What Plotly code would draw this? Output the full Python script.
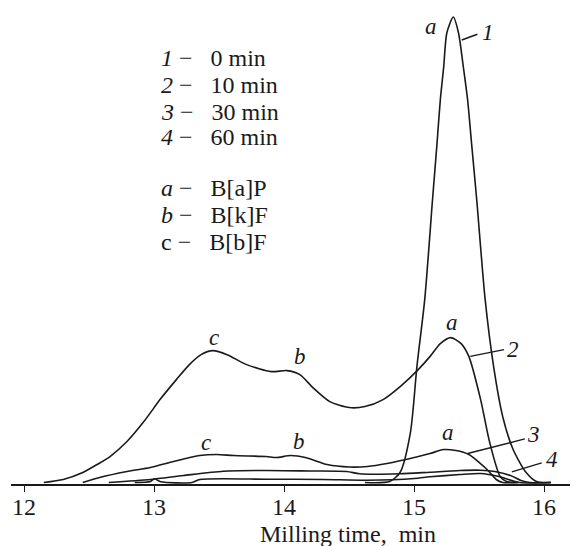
import plotly.graph_objects as go

# ---- data (x = milling/retention time, min; y = detector signal, arbitrary units) ----
x1 = [14.62, 14.81, 14.89, 14.97, 15.02, 15.08, 15.14, 15.175, 15.20, 15.226, 15.25, 15.30,
      15.34, 15.377, 15.41, 15.44, 15.48, 15.545, 15.61, 15.68, 15.76, 15.86, 15.94, 16.05]
y1 = [1, 2, 11, 51, 117, 184, 284, 341, 384, 417, 451, 467,
      451, 417, 384, 341, 284, 184, 117, 67, 34, 11, 2, 1]

x2 = [12.15, 12.30, 12.45, 12.56, 12.66, 12.79, 12.92, 13.05, 13.17, 13.27, 13.36, 13.45,
      13.56, 13.71, 13.90, 14.02, 14.12, 14.22, 14.35, 14.50, 14.62, 14.76, 14.90, 15.03,
      15.12, 15.20, 15.28, 15.36, 15.42, 15.51, 15.58, 15.66, 15.71, 15.80]
y2 = [1, 4, 11, 19, 27, 42, 62, 85, 104, 119, 129, 133,
      129, 119, 112, 113, 109, 96, 82, 76, 77, 84, 98, 114,
      127, 140, 146, 140, 127, 84, 41, 7, 2, 1]

x3 = [12.45, 12.58, 12.79, 12.97, 13.15, 13.35, 13.48, 13.61, 13.86, 13.94, 14.05, 14.17,
      14.33, 14.50, 14.64, 14.79, 15.00, 15.12, 15.225, 15.32, 15.42, 15.50, 15.56, 15.63,
      15.68, 15.80]
y3 = [1, 6, 12, 16, 22, 28, 29, 28, 27, 26, 28, 25.7,
      19, 16.5, 17, 20, 26, 30, 34, 33, 29, 21, 14, 4,
      1, 1]

x4 = [12.65, 12.97, 13.225, 13.53, 13.86, 14.20, 14.48, 14.58, 14.89, 15.12, 15.35, 15.51,
      15.62, 15.74, 15.82, 15.89, 16.05]
y4 = [1, 4, 8, 12.3, 13, 12.5, 12, 9.7, 9.7, 11.3, 13, 13.3,
      12, 8, 3, 1, 1]

x5 = [12.85, 12.97, 13.00, 13.05, 13.29, 13.35, 13.86, 14.30, 14.64, 15.00, 15.12, 15.35,
      15.51, 15.65, 15.81, 16.05]
y5 = [1, 2, 4.7, 1.7, 1, 4, 4.3, 4, 3.3, 5, 6.7, 9,
      10, 7, 1, 1]

tick_vals = [12, 13, 14, 15, 16]
tick_text = ["12", "13", "14", "15", "16"]
x_title = "Milling time,\u00a0 min"

# peak labels: (x, y, text)
peak_labels = [
    (15.13, 457, "a"),
    (15.29, 161, "a"), (13.46, 146, "c"), (14.12, 127, "b"),
    (15.26, 51, "a"), (13.40, 41, "c"), (14.11, 42, "b"),
]
# curve number labels: (x, y, text, leader x0, y0, x1, y1)
curve_labels = [
    (15.57, 451, "1", 15.365, 444, 15.485, 449.7),
    (15.76, 134, "2", 15.43, 127.3, 15.69, 134),
    (15.92, 49, "3", 15.41, 30, 15.85, 44.7),
    (16.06, 24, "4", 15.75, 11.7, 15.98, 20.7),
]
legend_rows = [
    "<i>1</i> \u2212 \u00a0\u00a00 min",
    "<i>2</i> \u2212 \u00a0\u00a010 min",
    "<i>3</i> \u2212 \u00a0\u00a030 min",
    "<i>4</i> \u2212 \u00a0\u00a060 min",
    "<i>a</i> \u2212 \u00a0\u00a0B[a]P",
    "<i>b</i> \u2212 \u00a0\u00a0B[k]F",
    "c \u2212 \u00a0\u00a0B[b]F",
]
legend_y = [426, 399, 372, 347, 296, 269, 242]
legend_x = 13.04

FONT = "Liberation Serif"
LC = "#1a1a1a"

fig = go.Figure()
for xs, ys in [(x1, y1), (x2, y2), (x3, y3), (x4, y4), (x5, y5)]:
    fig.add_trace(go.Scatter(x=xs, y=ys, mode="lines",
                             line=dict(color=LC, width=1.6, shape="spline", smoothing=0.7),
                             showlegend=False, hoverinfo="skip"))

ann = []
for x, y, t in peak_labels:
    ann.append(dict(x=x, y=y, text=f"<i>{t}</i>", xref="x", yref="y", showarrow=False,
                    font=dict(family=FONT, size=23, color=LC), xanchor="center", yanchor="middle"))
shapes = []
for x, y, t, a0, b0, a1, b1 in curve_labels:
    ann.append(dict(x=x, y=y, text=f"<i>{t}</i>", xref="x", yref="y", showarrow=False,
                    font=dict(family=FONT, size=23, color=LC), xanchor="center", yanchor="middle"))
    shapes.append(dict(type="line", xref="x", yref="y", x0=a0, y0=b0, x1=a1, y1=b1,
                       line=dict(color=LC, width=1.4)))
for t, y in zip(legend_rows, legend_y):
    ann.append(dict(x=legend_x, y=y, text=t, xref="x", yref="y", showarrow=False,
                    font=dict(family=FONT, size=24, color=LC), xanchor="left", yanchor="middle"))
# tick labels (placed as text under the axis ticks)
for v, t in zip(tick_vals, tick_text):
    ann.append(dict(x=v, y=-0.048, text=t, xref="x", yref="paper", showarrow=False,
                    font=dict(family=FONT, size=24, color=LC), xanchor="center", yanchor="middle"))
ann.append(dict(x=14.49, y=-0.104, text=x_title, xref="x", yref="paper",
                showarrow=False, font=dict(family=FONT, size=24, color=LC),
                xanchor="center", yanchor="middle"))

fig.update_layout(
    width=578, height=546,
    margin=dict(l=3, r=8, t=0, b=70),
    paper_bgcolor="white", plot_bgcolor="white",
    annotations=ann, shapes=shapes,
    xaxis=dict(range=[11.898, 16.259], tickvals=tick_vals, showticklabels=False,
               showgrid=False, zeroline=False, showline=True, linecolor=LC, linewidth=2,
               ticks="outside", ticklen=6, tickwidth=1.4, tickcolor=LC),
    yaxis=dict(range=[-0.5, 476], visible=False, showgrid=False, zeroline=False),
)
fig.write_html("out.html")
